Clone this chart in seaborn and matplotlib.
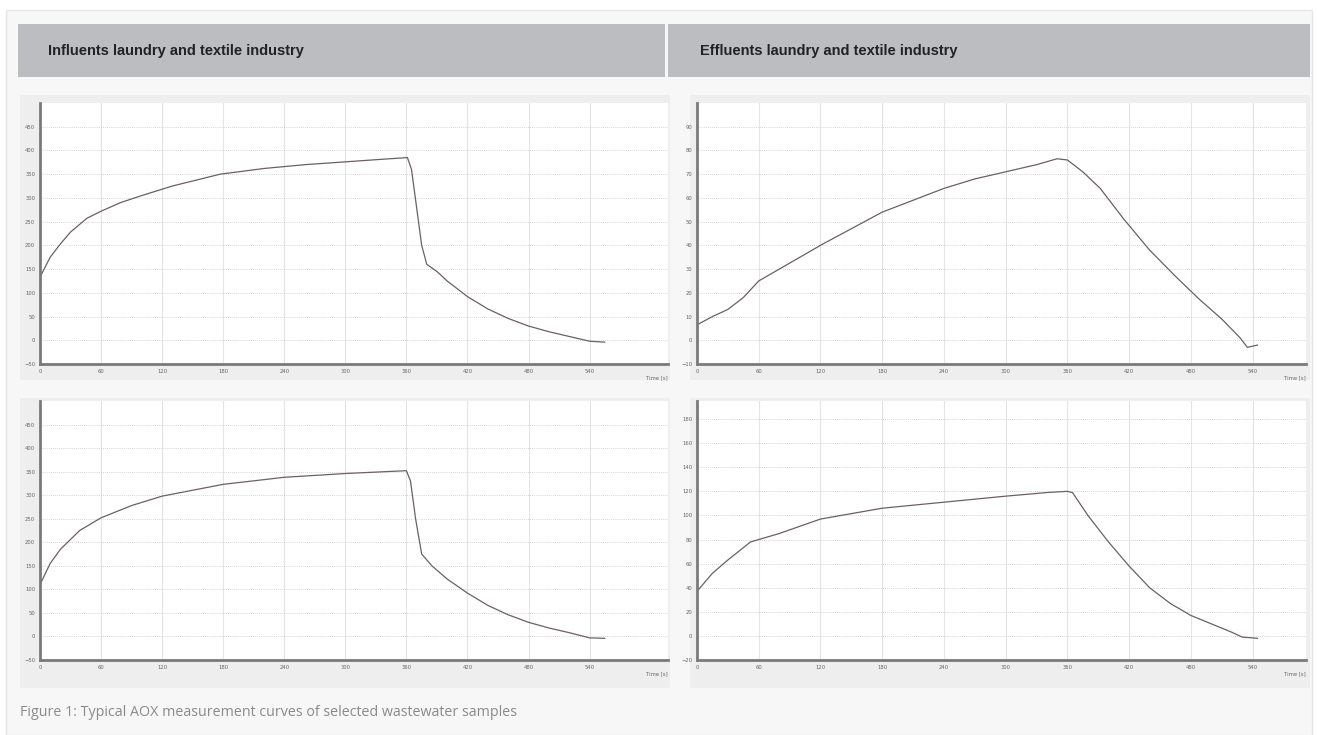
import matplotlib
matplotlib.use("Agg")
import matplotlib.pyplot as plt
from matplotlib.patches import Rectangle
import seaborn as sns
import pandas as pd

# influents, first sample (top left)
t_in1 = [0, 10, 20, 30, 46, 60, 79, 100, 130, 177, 220, 260, 300, 340, 361, 365, 370, 375, 380,
         390, 400, 420, 440, 460, 480, 500, 520, 540, 555]
v_in1 = [133, 175, 203, 228, 257, 272, 290, 305, 325, 350, 362, 370, 376, 382, 385, 360, 280, 200, 160,
         145, 125, 92, 66, 46, 30, 18, 8, -2, -4]

# effluents, first sample (top right)
t_ef1 = [0, 15, 30, 45, 60, 80, 100, 122, 150, 180, 210, 240, 270, 300, 330, 350, 360,
         375, 392, 415, 440, 465, 489, 510, 528, 535, 545]
v_ef1 = [6.5, 10, 13, 18, 25, 30, 35, 40.5, 47, 54, 59, 64, 68, 71, 74, 76.5, 76,
         71, 64, 51, 38, 27, 17, 9, 1, -3, -2]

# influents, second sample (bottom left)
t_in2 = [0, 10, 20, 39, 60, 90, 120, 180, 240, 300, 340, 360, 364, 369, 375, 385,
         400, 420, 440, 460, 480, 500, 520, 540, 555]
v_in2 = [110, 155, 185, 225, 252, 278, 298, 323, 338, 346, 350, 352, 330, 250, 175, 150,
         122, 92, 66, 46, 30, 18, 8, -3, -4]

# effluents, second sample (bottom right)
t_ef2 = [0, 15, 30, 52, 80, 120, 180, 240, 300, 340, 360, 365,
         380, 400, 420, 440, 460, 480, 500, 520, 530, 545]
v_ef2 = [37, 52, 63, 78, 85, 97, 106, 111, 116, 119, 120, 119,
         100, 78, 58, 40, 27, 17, 10, 3, -1, -2]

x_ticks = [0, 60, 120, 180, 240, 300, 360, 420, 480, 540]
y_ticks_in = [-50, 0, 50, 100, 150, 200, 250, 300, 350, 400, 450]
y_ticks_ef1 = [-10, 0, 10, 20, 30, 40, 50, 60, 70, 80, 90]
y_ticks_ef2 = [-20, 0, 20, 40, 60, 80, 100, 120, 140, 160, 180]

headers = ["Influents laundry and textile industry", "Effluents laundry and textile industry"]
caption = "Figure 1: Typical AOX measurement curves of selected wastewater samples"

W, H = 1318, 735

sns.set_style("white")
fig = plt.figure(figsize=(W / 100, H / 100), dpi=100)
fig.patch.set_facecolor("white")


def px_rect(x0, y0, x1, y1, z, **kw):
    fig.patches.append(Rectangle((x0 / W, 1 - y1 / H), (x1 - x0) / W, (y1 - y0) / H,
                                 transform=fig.transFigure, figure=fig, zorder=z, **kw))


# outer panel and header bars
px_rect(6, 10, 1312, 735, -3, facecolor="#f7f7f7", edgecolor="#e6e6e6", lw=1)
px_rect(18, 24, 665, 77, -2, facecolor="#bcbdc1", lw=0)
px_rect(668, 24, 1310, 77, -2, facecolor="#bcbdc1", lw=0)

hfont = ["Liberation Sans Narrow", "Liberation Sans", "DejaVu Sans"]
fig.text(48 / W, 1 - 51 / H, headers[0], fontsize=10.5, fontweight="bold", color="#222222",
         va="center", family=hfont)
fig.text(700 / W, 1 - 51 / H, headers[1], fontsize=10.5, fontweight="bold", color="#222222",
         va="center", family=hfont)
fig.text(20 / W, 1 - 712 / H, caption, fontsize=10.3, color="#8a8a8a", va="center",
         family=["Open Sans", "DejaVu Sans"])

panels = [
    # box, plot area (px), data, y ticks, ylim, xlim
    ((20, 95, 670, 380), (40, 103, 668, 364), t_in1, v_in1, y_ticks_in, (-50, 500), (0, 617)),
    ((690, 95, 1310, 380), (697, 103, 1306, 364), t_ef1, v_ef1, y_ticks_ef1, (-10, 100), (0, 592)),
    ((20, 398, 670, 688), (40, 401, 668, 660), t_in2, v_in2, y_ticks_in, (-50, 500), (0, 617)),
    ((690, 398, 1310, 688), (697, 401, 1306, 660), t_ef2, v_ef2, y_ticks_ef2, (-20, 195), (0, 592)),
]

for box, area, t, v, yt, ylim, xlim in panels:
    px_rect(*box, -1, facecolor="#eeeeee", lw=0)
    x0, y0, x1, y1 = area
    ax = fig.add_axes([x0 / W, 1 - y1 / H, (x1 - x0) / W, (y1 - y0) / H])
    ax.set_zorder(2)
    ax.set_facecolor("white")
    df = pd.DataFrame({"time": t, "value": v})
    sns.lineplot(data=df, x="time", y="value", ax=ax, color="#6e5f61", lw=0.9)
    ax.set_xlim(*xlim)
    ax.set_ylim(*ylim)
    ax.set_xticks(x_ticks)
    ax.set_yticks(yt)
    ax.tick_params(labelsize=3.8, colors="#666666", length=2, width=0.5, pad=1.5)
    ax.set_xlabel("")
    ax.set_ylabel("")
    ax.grid(axis="y", color="#c8c8c8", lw=0.6, ls=(0, (1, 1.5)))
    ax.grid(axis="x", color="#e4e4e4", lw=0.8)
    for s in ["top", "right"]:
        ax.spines[s].set_visible(False)
    ax.spines["left"].set_color("#7a7a7a")
    ax.spines["left"].set_linewidth(2)
    ax.spines["bottom"].set_color("#7a7a7a")
    ax.spines["bottom"].set_linewidth(2)
    ax.text(1.0, -0.045, "Time [s]", transform=ax.transAxes, ha="right", va="top",
            fontsize=3.8, color="#666666")

fig.savefig("out.png", dpi=100, facecolor="white")
